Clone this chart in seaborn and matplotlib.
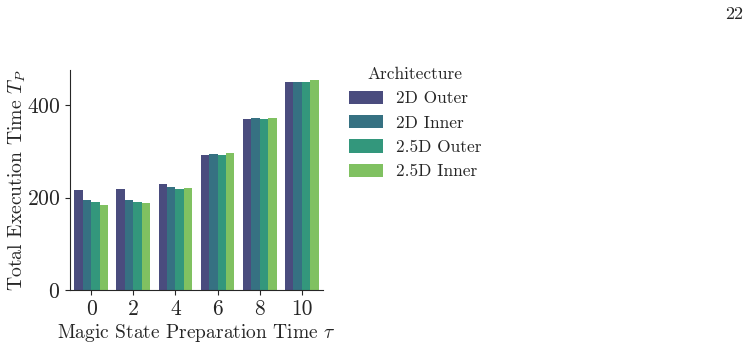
import numpy as np
import matplotlib
matplotlib.use('Agg')
import matplotlib.pyplot as plt
import pandas as pd
import seaborn as sns

# datos
tau = [0, 2, 4, 6, 8, 10]
arch = ['2D Outer', '2D Inner', '2.5D Outer', '2.5D Inner']
t_2d_outer = [217, 219, 230, 293, 371, 451]
t_2d_inner = [194, 195, 224, 295, 373, 451]
t_25d_outer = [191, 191, 219, 293, 371, 451]
t_25d_inner = [184, 189, 222, 297, 373, 454]

vals = [t_2d_outer, t_2d_inner, t_25d_outer, t_25d_inner]
rows = []
for a, v in zip(arch, vals):
    for t, y in zip(tau, v):
        rows.append({'tau': t, 'Architecture': a, 'T': y})
df = pd.DataFrame(rows)

sns.set_style('ticks')
plt.rcParams['font.family'] = 'serif'
plt.rcParams['font.serif'] = ['cmr10', 'DejaVu Serif']
plt.rcParams['mathtext.fontset'] = 'cm'
plt.rcParams['axes.formatter.use_mathtext'] = True
plt.rcParams['axes.unicode_minus'] = False

fig = plt.figure(figsize=(7.51, 3.5), dpi=100)
ax = fig.add_axes([70/751, 60/350, 253/751, 220/350])

sns.barplot(data=df, x='tau', y='T', hue='Architecture', hue_order=arch,
            palette='viridis', linewidth=0, ax=ax)

ax.set_xlabel(r'Magic State Preparation Time $\tau$', fontsize=14)
ax.xaxis.labelpad = 2
ax.set_ylabel(r'Total Execution Time $T_P$', fontsize=14.2)
ax.yaxis.set_label_coords(-0.165, 0.5)
ax.tick_params(labelsize=15.5)
ax.set_yticks([0, 200, 400])
sns.despine(ax=ax)

ax.legend(title='Architecture', loc='upper left', frameon=False,
          bbox_to_anchor=(333/751, 1 - 51/350), bbox_transform=fig.transFigure,
          fontsize=12.5, title_fontsize=12.5, handlelength=2.0, handleheight=0.8,
          labelspacing=0.5, handletextpad=0.75)

fig.text(734/751, 1 - 14/350, '22', fontsize=13, ha='center', va='center')

plt.savefig('out.png', dpi=100)
